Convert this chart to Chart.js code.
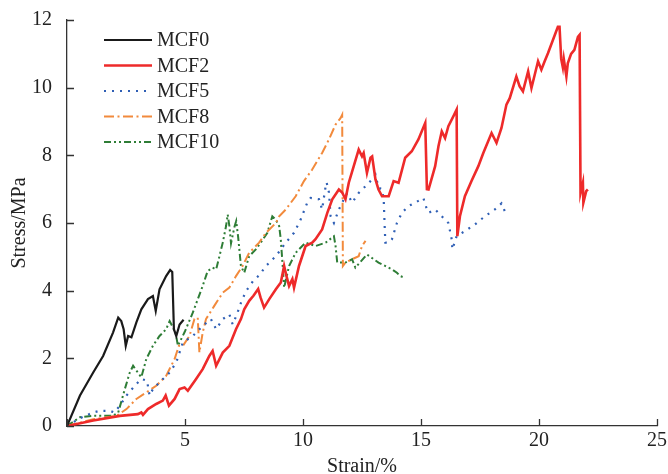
<!DOCTYPE html>
<html>
<head>
<meta charset="utf-8">
<script src="https://cdn.jsdelivr.net/npm/chart.js@4.4.1/dist/chart.umd.min.js"></script>
</head>
<body style="margin:0">
<canvas id="stress-chart" width="668" height="474"></canvas>
<script>
// series labels
const seriesNames = ['MCF0', 'MCF2', 'MCF5', 'MCF8', 'MCF10'];

// MCF0
const mcf0X = [0, 0.55, 1.11, 1.53, 1.95, 2.17, 2.3, 2.4, 2.49, 2.59, 2.73, 2.94, 3.15, 3.43, 3.64, 3.76, 3.92, 4.2, 4.37, 4.46, 4.53, 4.63, 4.77, 4.94];
const mcf0Y = [0, 0.9, 1.58, 2.07, 2.76, 3.2, 3.1, 2.86, 2.37, 2.66, 2.62, 3.06, 3.45, 3.75, 3.84, 3.4, 4.04, 4.43, 4.61, 4.55, 2.86, 2.66, 3.0, 3.14];

// MCF2
const mcf2X = [0, 1.11, 2.24, 3.0, 3.15, 3.22, 3.43, 3.78, 4.06, 4.18,
  4.32, 4.56, 4.77, 4.98, 5.12, 5.47, 5.75, 6.03, 6.17, 6.32,
  6.6, 6.88, 7.16, 7.37, 7.51, 7.72, 7.9, 8.1, 8.2, 8.35,
  8.57, 8.85, 9.06, 9.2, 9.3, 9.41, 9.55, 9.62, 9.83, 10.11,
  10.39, 10.53, 10.81, 11.03, 11.24, 11.52, 11.66, 11.8, 11.94, 12.15,
  12.36, 12.5, 12.57, 12.71, 12.86, 12.93, 13.07, 13.2, 13.35, 13.63,
  13.84, 14.05, 14.33, 14.61, 14.89, 15.18, 15.25, 15.32, 15.6, 15.74,
  15.88, 16.02, 16.16, 16.37, 16.51, 16.54, 16.65, 16.86, 17.14, 17.43,
  17.64, 17.99, 18.2, 18.41, 18.62, 18.76, 19.04, 19.18, 19.32, 19.54,
  19.68, 19.96, 20.1, 20.24, 20.38, 20.59, 20.8, 20.87, 20.94, 21.01,
  21.05, 21.16, 21.22, 21.36, 21.5, 21.65, 21.72, 21.76, 21.86, 21.88,
  22.0, 22.07];
const mcf2Y = [0, 0.16, 0.3, 0.35, 0.4, 0.33, 0.5, 0.65, 0.75, 0.9,
  0.6, 0.8, 1.09, 1.14, 1.04, 1.39, 1.68, 2.07, 2.22, 1.78,
  2.17, 2.37, 2.86, 3.16, 3.45, 3.7, 3.85, 4.05, 3.8, 3.5,
  3.75, 4.04, 4.24, 4.73, 4.43, 4.14, 4.34, 4.09, 4.73, 5.32,
  5.42, 5.52, 5.81, 6.3, 6.7, 6.99, 6.9, 6.7, 7.19, 7.68,
  8.17, 7.97, 8.07, 7.48, 7.93, 7.97, 7.29, 6.99, 6.79, 6.79,
  7.24, 7.19, 7.93, 8.12, 8.47, 8.96, 7.0, 6.99, 7.68, 8.27,
  8.71, 8.51, 8.86, 9.15, 9.35, 5.61, 6.2, 6.79, 7.24, 7.68,
  8.07, 8.66, 8.37, 8.81, 9.5, 9.69, 10.33, 10.04, 9.89, 10.48,
  9.99, 10.78, 10.53, 10.78, 11.02, 11.41, 11.8, 11.8, 10.85, 10.6,
  10.85, 10.33, 10.72, 11.0, 11.12, 11.5, 11.56, 6.89, 7.19, 6.6,
  6.94, 6.99];

// MCF5
const mcf5X = [0, 0.55, 1.11, 1.4, 1.81, 2.0, 2.24, 2.52, 2.87, 3.15,
  3.39, 3.5, 3.64, 3.92, 4.35, 4.63, 4.91, 5.33, 5.75, 6.1,
  6.32, 6.6, 6.88, 7.02, 7.2, 7.4, 7.6, 7.9, 8.14, 8.43,
  8.85, 9.27, 9.62, 9.9, 10.18, 10.32, 10.68, 10.81, 10.96, 11.0,
  11.1, 11.17, 11.31, 11.52, 11.73, 11.87, 12.08, 12.36, 12.65, 12.93,
  13.07, 13.2, 13.35, 13.42, 13.46, 13.49, 13.63, 13.77, 13.98, 14.19,
  14.47, 14.75, 15.1, 15.25, 15.32, 15.6, 15.88, 16.16, 16.3, 16.33,
  16.51, 16.86, 17.29, 17.71, 18.13, 18.41, 18.55];
const mcf5Y = [0, 0.23, 0.4, 0.45, 0.45, 0.4, 0.6, 0.9, 1.19, 1.39,
  1.34, 0.9, 1.09, 1.29, 1.58, 1.88, 2.47, 2.66, 2.96, 3.16,
  2.86, 3.16, 3.3, 3.0, 3.3, 3.7, 4.0, 4.3, 4.45, 4.73,
  5.02, 5.42, 5.71, 6.1, 6.6, 6.74, 6.7, 6.4, 7.09, 7.2,
  6.9, 6.2, 6.0, 6.4, 6.7, 6.89, 6.6, 6.89, 7.09, 7.29,
  7.43, 7.04, 7.0, 6.7, 5.91, 5.42, 5.42, 5.52, 6.0, 6.3,
  6.5, 6.6, 6.74, 6.4, 6.3, 6.4, 6.2, 6.0, 5.52, 5.22,
  5.61, 5.76, 5.96, 6.2, 6.4, 6.58, 6.35];

// MCF8
const mcf8X = [0, 1.11, 2.1, 2.52, 2.94, 3.36, 3.78, 4.2, 4.56, 4.74,
  4.91, 5.19, 5.4, 5.54, 5.61, 5.75, 5.89, 6.24, 6.6, 6.88,
  7.16, 7.44, 7.72, 8.14, 8.43, 8.85, 8.99, 9.27, 9.69, 10.04,
  10.39, 10.81, 11.1, 11.38, 11.59, 11.66, 11.69, 11.8, 12.08, 12.36,
  12.5, 12.65];
const mcf8Y = [0, 0.2, 0.3, 0.5, 0.8, 0.99, 1.19, 1.48, 1.98, 2.37,
  2.37, 2.66, 3.16, 3.2, 2.17, 2.76, 3.16, 3.55, 3.94, 4.09,
  4.43, 4.73, 5.12, 5.42, 5.71, 6.0, 6.2, 6.4, 6.79, 7.24,
  7.58, 8.07, 8.47, 8.91, 9.1, 9.2, 4.73, 4.83, 4.93, 5.02,
  5.32, 5.47];

// MCF10
const mcf10X = [0, 0.55, 1.11, 1.95, 2.17, 2.45, 2.66, 2.8, 3.0, 3.15,
  3.36, 3.64, 3.92, 4.2, 4.35, 4.6, 4.7, 4.98, 5.33, 5.75,
  5.96, 6.17, 6.32, 6.46, 6.6, 6.74, 6.81, 6.88, 6.95, 7.1,
  7.17, 7.25, 7.37, 7.51, 7.72, 8.0, 8.21, 8.49, 8.7, 8.85,
  8.99, 9.06, 9.16, 9.2, 9.41, 9.69, 10.11, 10.53, 10.96, 11.31,
  11.38, 11.45, 11.8, 12.08, 12.22, 12.71, 13.2, 13.77, 13.98, 14.12,
  14.33];
const mcf10Y = [0, 0.26, 0.3, 0.3, 0.4, 1.09, 1.58, 1.78, 1.58, 1.44,
  1.98, 2.37, 2.66, 2.86, 3.1, 2.76, 2.37, 2.77, 3.35, 4.14,
  4.58, 4.68, 4.63, 5.02, 5.42, 5.91, 6.25, 5.91, 5.4, 5.9,
  6.06, 5.6, 4.73, 4.53, 5.02, 5.22, 5.42, 5.71, 6.2, 6.1,
  5.91, 5.5, 4.53, 4.09, 4.73, 5.12, 5.42, 5.32, 5.42, 5.61,
  5.32, 4.83, 4.83, 4.93, 4.68, 5.07, 4.83, 4.63, 4.53, 4.43,
  4.38];

// axis ticks
const xTicks = [0, 5, 10, 15, 20, 25];
const xTickLabels = ['', '5', '10', '15', '20', '25'];
const yTicks = [0, 2, 4, 6, 8, 10, 12];

const FONT = "'Liberation Serif', 'Times New Roman', serif";

function toPoints(xArr, yArr) {
  return xArr.map((x, i) => ({ x: x, y: yArr[i] }));
}

const lineStyles = [
  { color: '#1a1a1a', width: 2.2, dash: [] },
  { color: '#ee2a2a', width: 2.6, dash: [] },
  { color: '#2f5fb5', width: 2.2, dash: [2, 6] },
  { color: '#f28a3c', width: 2.0, dash: [10, 3.5, 2, 3.5] },
  { color: '#2e7d36', width: 2.0, dash: [7, 3, 2, 3, 2, 3] },
];
const seriesPoints = [
  toPoints(mcf0X, mcf0Y),
  toPoints(mcf2X, mcf2Y),
  toPoints(mcf5X, mcf5Y),
  toPoints(mcf8X, mcf8Y),
  toPoints(mcf10X, mcf10Y),
];

// legend drawn inside the plot, top-left
const innerLegend = {
  id: 'innerLegend',
  afterDraw(chart) {
    const ctx = chart.ctx;
    ctx.save();
    chart.data.datasets.forEach((ds, i) => {
      const y = 40 + i * 25.5;
      ctx.beginPath();
      ctx.strokeStyle = ds.borderColor;
      ctx.lineWidth = ds.borderWidth;
      ctx.setLineDash(ds.borderDash);
      ctx.moveTo(104, y);
      ctx.lineTo(152, y);
      ctx.stroke();
      ctx.setLineDash([]);
      ctx.fillStyle = '#222';
      ctx.font = '20px ' + FONT;
      ctx.textBaseline = 'middle';
      ctx.fillText(ds.label, 157, y + 1);
    });
    ctx.restore();
  }
};

// tick marks pointing into the plot, plus the x tick labels under them
const inwardTicks = {
  id: 'inwardTicks',
  afterDraw(chart) {
    const ctx = chart.ctx;
    const sx = chart.scales.x, sy = chart.scales.y;
    const area = chart.chartArea;
    ctx.save();
    ctx.strokeStyle = '#333';
    ctx.lineWidth = 1.3;
    ctx.beginPath();
    xTicks.forEach(v => {
      const px = Math.round(sx.getPixelForValue(v)) + 0.5;
      ctx.moveTo(px, area.bottom);
      ctx.lineTo(px, area.bottom - 7);
    });
    yTicks.forEach(v => {
      const py = Math.round(sy.getPixelForValue(v)) + 0.5;
      ctx.moveTo(area.left, py);
      ctx.lineTo(area.left + 7, py);
    });
    ctx.stroke();
    ctx.fillStyle = '#222';
    ctx.font = '20px ' + FONT;
    ctx.textAlign = 'center';
    ctx.textBaseline = 'top';
    xTicks.forEach((v, i) => {
      ctx.fillText(xTickLabels[i], sx.getPixelForValue(v), area.bottom + 5);
    });
    ctx.restore();
  }
};

new Chart(document.getElementById('stress-chart'), {
  type: 'line',
  data: {
    datasets: seriesNames.map((name, i) => ({
      label: name,
      data: seriesPoints[i],
      borderColor: lineStyles[i].color,
      backgroundColor: lineStyles[i].color,
      borderWidth: lineStyles[i].width,
      borderDash: lineStyles[i].dash,
      pointRadius: 0,
      tension: 0,
      fill: false,
    })),
  },
  options: {
    responsive: false,
    animation: false,
    layout: { padding: { top: 20, right: 11, left: 0, bottom: 0 } },
    plugins: {
      legend: { display: false },
      tooltip: { enabled: false },
    },
    scales: {
      x: {
        type: 'linear',
        min: 0,
        max: 25,
        afterFit: (a) => { a.height = 48; },
        grid: { display: false },
        border: { display: true, color: '#333', width: 1.3 },
        ticks: { display: false, stepSize: 5 },
        title: {
          display: true,
          text: 'Strain/%',
          color: '#222',
          font: { family: FONT, size: 20, lineHeight: 0.75 },
          padding: { top: 0, bottom: 0 },
        },
      },
      y: {
        type: 'linear',
        min: 0,
        max: 12,
        afterFit: (a) => { a.width = 67; },
        grid: { display: false },
        border: { display: true, color: '#333', width: 1.3 },
        ticks: {
          stepSize: 2,
          autoSkip: false,
          padding: 7,
          color: '#222',
          font: { family: FONT, size: 20 },
        },
        title: {
          display: true,
          text: 'Stress/MPa',
          color: '#222',
          font: { family: FONT, size: 20, lineHeight: 1.0 },
          padding: { top: 10, bottom: 0 },
        },
      },
    },
  },
  plugins: [innerLegend, inwardTicks],
});
</script>
</body>
</html>
